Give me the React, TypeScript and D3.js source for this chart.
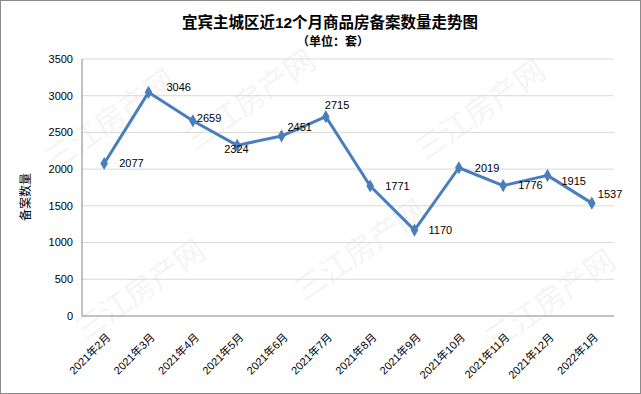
import React from "react";
import * as d3 from "d3";

const months = ["2021年2月","2021年3月","2021年4月","2021年5月","2021年6月","2021年7月","2021年8月","2021年9月","2021年10月","2021年11月","2021年12月","2022年1月"];
const counts = [2077, 3046, 2659, 2324, 2451, 2715, 1771, 1170, 2019, 1776, 1915, 1537];
const yTicks = [0, 500, 1000, 1500, 2000, 2500, 3000, 3500];
// label nudges (dx, dy) relative to each point, as placed in the original
const labelDx = [15, 18, 4, -13, 6, -1, 15, 14, 16, 15, 14, 6];
const labelDy = [0, -5, -3, 4, -9, -11, 0, 0, 0, 0, 6, -9];
const watermarks = [[110, 120], [250, 100], [480, 110], [140, 290], [360, 250], [550, 300]];

const W = 641, H = 394;
const M = { left: 82, right: 614, top: 59, bottom: 316 };
const BLUE = "#4A7EBB";
const NUM = "'Liberation Sans', Arial, 'Noto Sans CJK SC', sans-serif";
const CJK = "'Liberation Sans', 'Noto Sans CJK SC', sans-serif";

export default function App() {
  const x = d3.scaleBand<string>().domain(months).range([M.left, M.right]).padding(0);
  const y = d3.scaleLinear().domain([0, 3500]).range([M.bottom, M.top]);
  const cx = (m: string) => (x(m) as number) + x.bandwidth() / 2;
  const line = d3.line<number>().x((_, i) => cx(months[i])).y((d) => y(d));
  const diamond = d3.symbol().type(d3.symbolDiamond).size(50)();

  return (
    <svg width={W} height={H} style={{ position: "absolute", left: 0, top: 0 }} xmlns="http://www.w3.org/2000/svg">
      <rect x={0.5} y={0.5} width={W - 1} height={H - 1} fill="#fff" stroke="#8c8c8c" />
      {watermarks.map(([wx, wy], i) => (
        <text key={i} transform={`translate(${wx},${wy}) rotate(-35)`} fontSize={30} fontFamily="'Noto Sans CJK SC'" fill="#000" opacity={0.04} textAnchor="middle" dy="0.35em">三江房产网</text>
      ))}
      <text x={330} y={28} textAnchor="middle" fontSize={15.5} fontWeight="bold" fontFamily={CJK} fill="#000">宜宾主城区近12个月商品房备案数量走势图</text>
      <text x={333} y={46} textAnchor="middle" fontSize={12} fontWeight="bold" fontFamily={CJK} fill="#000">（单位：套）</text>
      {yTicks.map((t) => (
        <g key={t}>
          {t > 0 && <line x1={M.left} x2={M.right} y1={y(t)} y2={y(t)} stroke="#d9d9d9" strokeWidth={1} />}
          <text x={73} y={y(t)} dy="0.35em" textAnchor="end" fontSize={11} fontFamily={NUM} fill="#000">{t}</text>
        </g>
      ))}
      <line x1={M.left} x2={M.left} y1={M.top} y2={M.bottom} stroke="#868686" />
      <line x1={M.left} x2={M.right} y1={M.bottom} y2={M.bottom} stroke="#868686" />
      <text transform={`translate(30,197) rotate(-90)`} textAnchor="middle" fontSize={12} fontFamily={CJK} fill="#000">备案数量</text>
      {months.map((m) => (
        <text key={m} transform={`translate(${cx(m) + 7},${M.bottom + 22}) rotate(-45)`} textAnchor="end" fontSize={11} fontFamily={CJK} fill="#000">{m}</text>
      ))}
      <path d={line(counts) || ""} fill="none" stroke={BLUE} strokeWidth={3} strokeLinejoin="round" />
      {counts.map((v, i) => (
        <path key={i} d={diamond || ""} transform={`translate(${cx(months[i])},${y(v)})`} fill={BLUE} />
      ))}
      {counts.map((v, i) => (
        <text key={i} x={cx(months[i]) + labelDx[i]} y={y(v) + labelDy[i]} dy="0.35em" fontSize={11} fontFamily={NUM} fill="#000">{v}</text>
      ))}
    </svg>
  );
}
